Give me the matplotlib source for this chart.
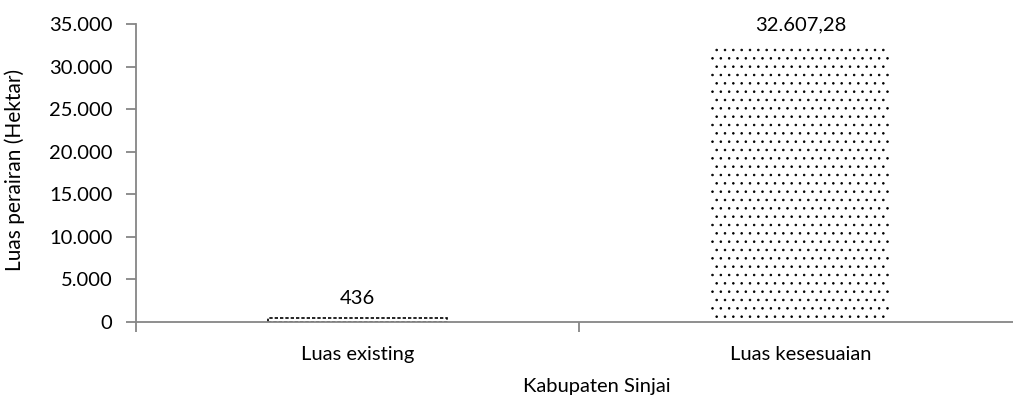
import matplotlib.pyplot as plt
from matplotlib.ticker import FuncFormatter

# data
categories = ["Luas existing", "Luas kesesuaian"]
luas = [436, 32607.28]
value_labels = ["436", "32.607,28"]
y_ticks = [0, 5000, 10000, 15000, 20000, 25000, 30000, 35000]

plt.rcParams["font.family"] = ["Lato", "DejaVu Sans"]
plt.rcParams["hatch.linewidth"] = 0.6

AXIS_GREY = "#868686"
FS = 14.5


def id_thousands(v, pos=None):
    # Indonesian style: dot as thousands separator
    return f"{int(round(v)):,}".replace(",", ".")


fig = plt.figure(figsize=(10.13, 4.03), dpi=100)
ax = fig.add_axes([136 / 1013, 81 / 403, 886 / 1013, 298 / 403])

x = range(len(categories))
bars = ax.bar(x, luas, width=0.404, color="white", edgecolor="black",
              linewidth=0, hatch="..")

# the small bar is only a few pixels tall, give it a dotted outline so it shows
bars[0].set_linewidth(1.2)
bars[0].set_linestyle((0, (2, 1.2)))

for rect, txt in zip(bars, value_labels):
    ax.annotate(txt, (rect.get_x() + rect.get_width() / 2, rect.get_height()),
                xytext=(0, 8), textcoords="offset points",
                ha="center", va="bottom", fontsize=FS, color="black")

ax.set_xlim(-0.5, 1.5)
ax.set_ylim(0, 35000)
ax.set_yticks(y_ticks)
ax.yaxis.set_major_formatter(FuncFormatter(id_thousands))

ax.set_xticks(list(x))
ax.set_xticklabels(categories)
ax.set_xticks([-0.5, 0.5, 1.5], minor=True)
ax.tick_params(axis="x", which="major", length=0, pad=17, labelsize=FS)
ax.tick_params(axis="x", which="minor", length=7, width=1.3, color=AXIS_GREY)
ax.tick_params(axis="y", length=7, width=1.3, color=AXIS_GREY, labelsize=FS, pad=10)

for side in ["top", "right"]:
    ax.spines[side].set_visible(False)
for side in ["left", "bottom"]:
    ax.spines[side].set_color(AXIS_GREY)
    ax.spines[side].set_linewidth(1.3)

ax.set_ylabel("Luas perairan (Hektar)", fontsize=15)
ax.yaxis.set_label_coords(-111 / 886, 0.51)
ax.set_xlabel("Kabupaten Sinjai", fontsize=FS)
ax.xaxis.set_label_coords(461 / 886, -56 / 298)

fig.savefig("out.png", dpi=100)
